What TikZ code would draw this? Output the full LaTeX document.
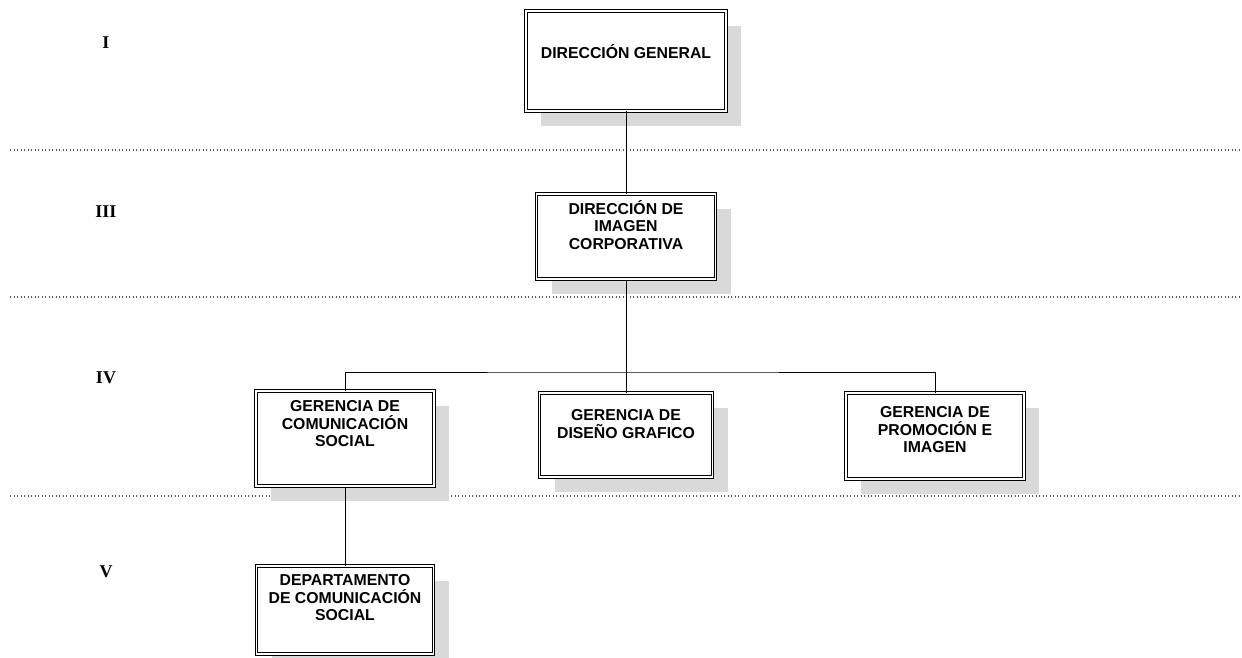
\documentclass[tikz,border=0pt]{standalone}
\usepackage{fontspec}
\setmainfont{Liberation Sans}
\newfontfamily\levelfont{Liberation Serif}
\usetikzlibrary{positioning, shadows, calc}

\begin{document}
\begin{tikzpicture}[x=1pt, y=-1pt,
    orgbox/.style={draw=black, fill=white, double, double distance=1.6pt, line width=1pt,
        drop shadow={shadow xshift=15pt, shadow yshift=-15pt, fill=gray!30, opacity=1}},
    boxtext/.style={font=\fontsize{15.8}{17.5}\selectfont\bfseries, align=center, inner sep=0pt},
    level/.style={font=\fontsize{18}{20}\selectfont\levelfont\bfseries},
    levelsep/.style={line width=1.1pt, dash pattern=on 1pt off 2.5pt, black!65},
    link/.style={line width=1pt}]
    \useasboundingbox (0,0) rectangle (1242,658);

    % Level separators
    \draw[levelsep] (10,150) -- (1242,150);
    \draw[levelsep] (10,297) -- (1242,297);
    \draw[levelsep] (10,496) -- (1242,496);

    % Level labels
    \node[level] (lvI) at (106,43) {I};
    \node[level] (lvIII) at (106,212) {III};
    \node[level] (lvIV) at (106,378) {IV};
    \node[level] (lvV) at (106,572) {V};

    % Boxes
    \node[orgbox, minimum width=200, minimum height=100] (dg) at (626,61) {};
    \node[orgbox, minimum width=179, minimum height=85] (dic) at (626,236.5) {};
    \node[orgbox, minimum width=178, minimum height=95] (gcs) at (345,438.5) {};
    \node[orgbox, minimum width=173, minimum height=84] (gdg) at (626,435) {};
    \node[orgbox, minimum width=178, minimum height=86] (gpi) at (935,436) {};
    \node[orgbox, minimum width=177, minimum height=88] (dcs) at (345,610) {};

    % Box texts
    \node[boxtext] (dg-t) at (626,52) {DIRECCIÓN GENERAL};
    \node[boxtext] (dic-t) at (626,225) {DIRECCIÓN DE\\IMAGEN\\CORPORATIVA};
    \node[boxtext] (gcs-t) at (345,424) {GERENCIA DE\\COMUNICACIÓN\\SOCIAL};
    \node[boxtext] (gdg-t) at (626,424) {GERENCIA DE\\DISEÑO GRAFICO};
    \node[boxtext] (gpi-t) at (935,430) {GERENCIA DE\\PROMOCIÓN E\\IMAGEN};
    \node[boxtext] (dcs-t) at (345,598) {DEPARTAMENTO\\DE COMUNICACIÓN\\SOCIAL};

    % Connectors
    \coordinate (bus) at (626,372);
    \draw[link] (dg.south) -- (dic.north);
    \draw[link] (dic.south) -- (bus);
    \draw[link] (gcs.north) |- (bus) -| (gpi.north);
    \draw[link] (bus) -- (gdg.north);
    \draw[link] (gcs.south) -- (dcs.north);
\end{tikzpicture}
\end{document}
